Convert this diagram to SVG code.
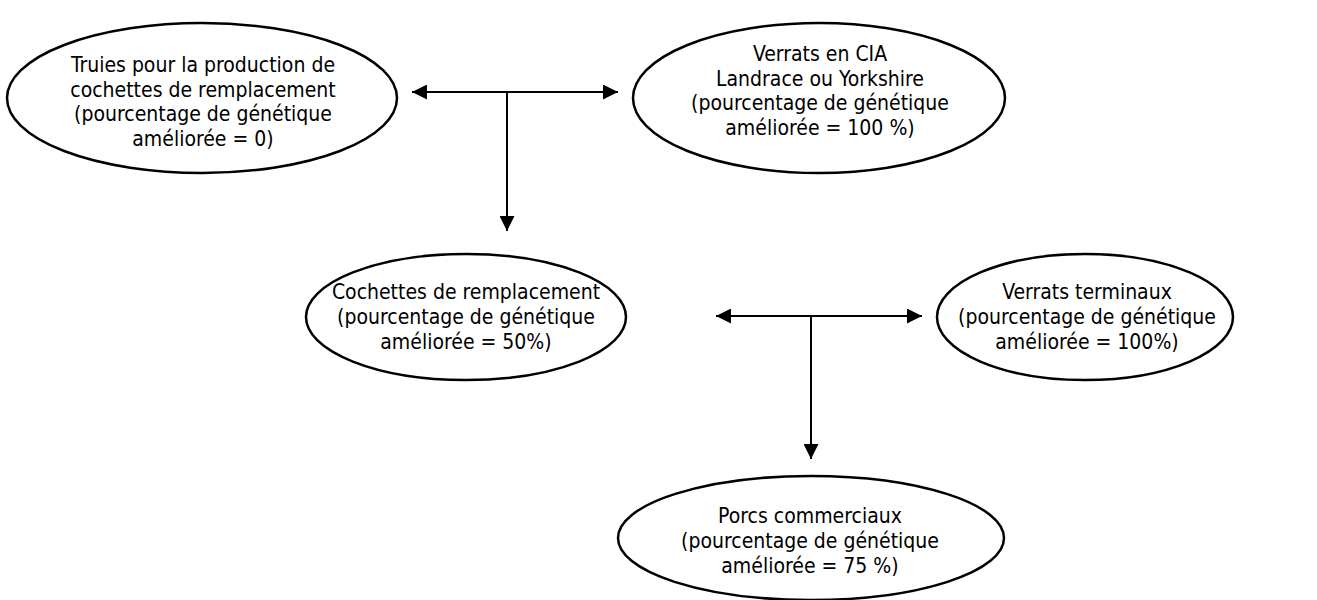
<svg xmlns="http://www.w3.org/2000/svg" width="1317" height="600" viewBox="0 0 1317 600">
<style>
.n ellipse{fill:#fff;stroke:#000;stroke-width:2.5}
text{font-family:"DejaVu Sans Condensed","DejaVu Sans","Liberation Sans",sans-serif;font-stretch:condensed;font-size:21px;fill:#000;text-anchor:middle}
.c line{stroke:#000;stroke-width:2}
</style>
<defs>
<marker id="ah" viewBox="0 0 15 15" refX="15" refY="7.5" markerWidth="15" markerHeight="15" orient="auto-start-reverse" markerUnits="userSpaceOnUse">
<path d="M0,0 L15,7.5 L0,15 z" fill="#000"/>
</marker>
</defs>
<rect width="1317" height="600" fill="#fff"/>
<g class="c">
<line x1="412" y1="92" x2="618" y2="92" marker-start="url(#ah)" marker-end="url(#ah)"/>
<line x1="507" y1="92" x2="507" y2="231" marker-end="url(#ah)"/>
<line x1="716" y1="316" x2="922" y2="316" marker-start="url(#ah)" marker-end="url(#ah)"/>
<line x1="811" y1="316" x2="811" y2="459" marker-end="url(#ah)"/>
</g>
<g id="n1" class="n">
<ellipse cx="202" cy="98" rx="195" ry="75"/>
<text x="203" y="72">Truies pour la production de</text>
<text x="203" y="97">cochettes de remplacement</text>
<text x="203" y="121">(pourcentage de génétique</text>
<text x="203" y="146">améliorée = 0)</text>
</g>
<g id="n2" class="n">
<ellipse cx="819" cy="98" rx="186" ry="75"/>
<text x="820" y="61">Verrats en CIA</text>
<text x="820" y="86">Landrace ou Yorkshire</text>
<text x="820" y="110">(pourcentage de génétique</text>
<text x="820" y="135">améliorée = 100 %)</text>
</g>
<g id="n3" class="n">
<ellipse cx="466" cy="317" rx="160" ry="63"/>
<text x="466" y="299">Cochettes de remplacement</text>
<text x="466" y="324">(pourcentage de génétique</text>
<text x="466" y="349">améliorée = 50%)</text>
</g>
<g id="n4" class="n">
<ellipse cx="1085" cy="317" rx="148" ry="63"/>
<text x="1087" y="299">Verrats terminaux</text>
<text x="1087" y="324">(pourcentage de génétique</text>
<text x="1087" y="349">améliorée = 100%)</text>
</g>
<g id="n5" class="n">
<ellipse cx="811" cy="538" rx="193" ry="62"/>
<text x="810" y="523">Porcs commerciaux</text>
<text x="810" y="548">(pourcentage de génétique</text>
<text x="810" y="573">améliorée = 75 %)</text>
</g>
</svg>
